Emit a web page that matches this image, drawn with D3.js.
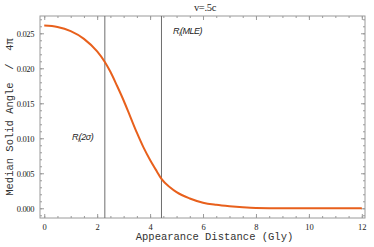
<!DOCTYPE html>
<html>
<head>
<meta charset="utf-8">
<script src="https://cdn.jsdelivr.net/npm/d3@7"></script>
<style>
body { margin: 0; background: #fff; }
</style>
</head>
<body>
<svg id="chart" width="374" height="247"></svg>
<script>
// data
var distance = [0, 0.5, 1.0, 1.5, 2.0, 2.29, 2.5, 2.75, 3.0, 3.25, 3.5, 3.75, 4.0, 4.25, 4.43, 4.75, 5.0, 5.5, 6.0, 6.5, 7.0, 7.5, 8.0, 9.0, 10.0, 12.0];
var solidAngle = [0.0261, 0.0259, 0.0253, 0.0242, 0.0224, 0.0209, 0.0195, 0.0175, 0.0154, 0.0131, 0.0108, 0.0087, 0.0069, 0.0053, 0.0042, 0.0030, 0.0023, 0.0014, 0.0008, 0.0005, 0.0003, 0.00015, 0.00005, 0.0, 0.0, 0.0];
var markers = [{x: 2.29, sub: "2σ"}, {x: 4.43, sub: "MLE"}];
var xTicks = [0, 2, 4, 6, 8, 10, 12];
var yTicks = [0.000, 0.005, 0.010, 0.015, 0.020, 0.025];
var title = "v=.5c";

var svg = d3.select("#chart");
var frameL = 40, frameR = 365, frameT = 16, frameB = 218;

var x = d3.scaleLinear().domain([-0.16, 12.12]).range([frameL, frameR]);
var y = d3.scaleLinear().domain([-0.00139, 0.02747]).range([frameB, frameT]);

var frameColor = "#9a9a9a";

/*
ticks pointing inward on all four sides
*/
function tickSide(axisFn, scale, transform, major, minor, labels) {
	var g = svg.append("g").attr("transform", transform);
	g.call(axisFn(scale).tickValues(minor).tickSize(-2).tickFormat(""));
	var g2 = svg.append("g").attr("transform", transform);
	g2.call(axisFn(scale).tickValues(major).tickSize(-4).tickPadding(6).tickFormat(labels ? labels : ""));
	[g, g2].forEach(function(s) {
		s.select(".domain").remove();
		s.selectAll("line").attr("stroke", frameColor);
		s.selectAll("text").attr("font-family", "Liberation Serif").attr("font-size", 8.5).attr("fill", "#222");
	});
	return g2;
}

var xMinor = d3.range(0, 12.01, 0.5);
var yMinor = d3.range(-0.001, 0.0271, 0.001);

tickSide(d3.axisBottom, x, "translate(0," + frameB + ")", xTicks, xMinor, d3.format("d"));
tickSide(d3.axisTop, x, "translate(0," + frameT + ")", xTicks, xMinor, null);
tickSide(d3.axisLeft, y, "translate(" + frameL + ",0)", yTicks, yMinor, d3.format(".3f"))
	.selectAll("text").attr("letter-spacing", -0.4);
tickSide(d3.axisRight, y, "translate(" + frameR + ",0)", yTicks, yMinor, null);

svg.append("rect")
	.attr("x", frameL).attr("y", frameT)
	.attr("width", frameR - frameL).attr("height", frameB - frameT)
	.attr("fill", "none").attr("stroke", frameColor).attr("stroke-width", 1);

// vertical marker lines
svg.selectAll(".marker").data(markers).enter().append("line")
	.attr("class", "marker")
	.attr("x1", function(d) { return x(d.x); }).attr("x2", function(d) { return x(d.x); })
	.attr("y1", frameT).attr("y2", frameB)
	.attr("stroke", "#6e6e6e").attr("stroke-width", 1);

var pts = distance.map(function(d, i) { return [d, solidAngle[i]]; });
var line = d3.line()
	.x(function(d) { return x(d[0]); })
	.y(function(d) { return y(d[1]); })
	.curve(d3.curveMonotoneX);

svg.append("path").datum(pts)
	.attr("d", line)
	.attr("fill", "none")
	.attr("stroke", "#e8601c")
	.attr("stroke-width", 2);

// annotation labels
function rLabel(px, py, sub) {
	var t = svg.append("text").attr("x", px).attr("y", py)
		.attr("font-family", "Liberation Sans").attr("font-style", "italic")
		.attr("font-size", 9).attr("fill", "#222").attr("letter-spacing", -0.5);
	t.append("tspan").text("R");
	t.append("tspan").attr("font-size", 6).attr("dy", 2).text("l");
	t.append("tspan").attr("dy", -2).text("(" + sub + ")");
}
rLabel(x(1.05), y(0.0097), markers[0].sub);
rLabel(x(4.87), y(0.0249), markers[1].sub);

svg.append("text")
	.attr("x", 205).attr("y", 11)
	.attr("text-anchor", "middle")
	.attr("font-family", "Liberation Serif").attr("font-size", 10.5)
	.attr("letter-spacing", -0.3)
	.attr("fill", "#222")
	.text(title);

svg.append("text")
	.attr("x", (frameL + frameR) / 2 + 12).attr("y", 240)
	.attr("text-anchor", "middle")
	.attr("font-family", "Liberation Mono").attr("font-size", 10.5)
	.attr("fill", "#333")
	.text("Appearance Distance (Gly)");

svg.append("text")
	.attr("transform", "translate(10," + ((frameT + frameB) / 2) + ") rotate(-90)")
	.attr("text-anchor", "middle")
	.attr("dy", "0.3em")
	.attr("font-family", "Liberation Mono").attr("font-size", 10.5)
	.attr("fill", "#333")
	.attr("xml:space", "preserve")
	.text("Median Solid Angle  /  4π");
</script>
</body>
</html>
